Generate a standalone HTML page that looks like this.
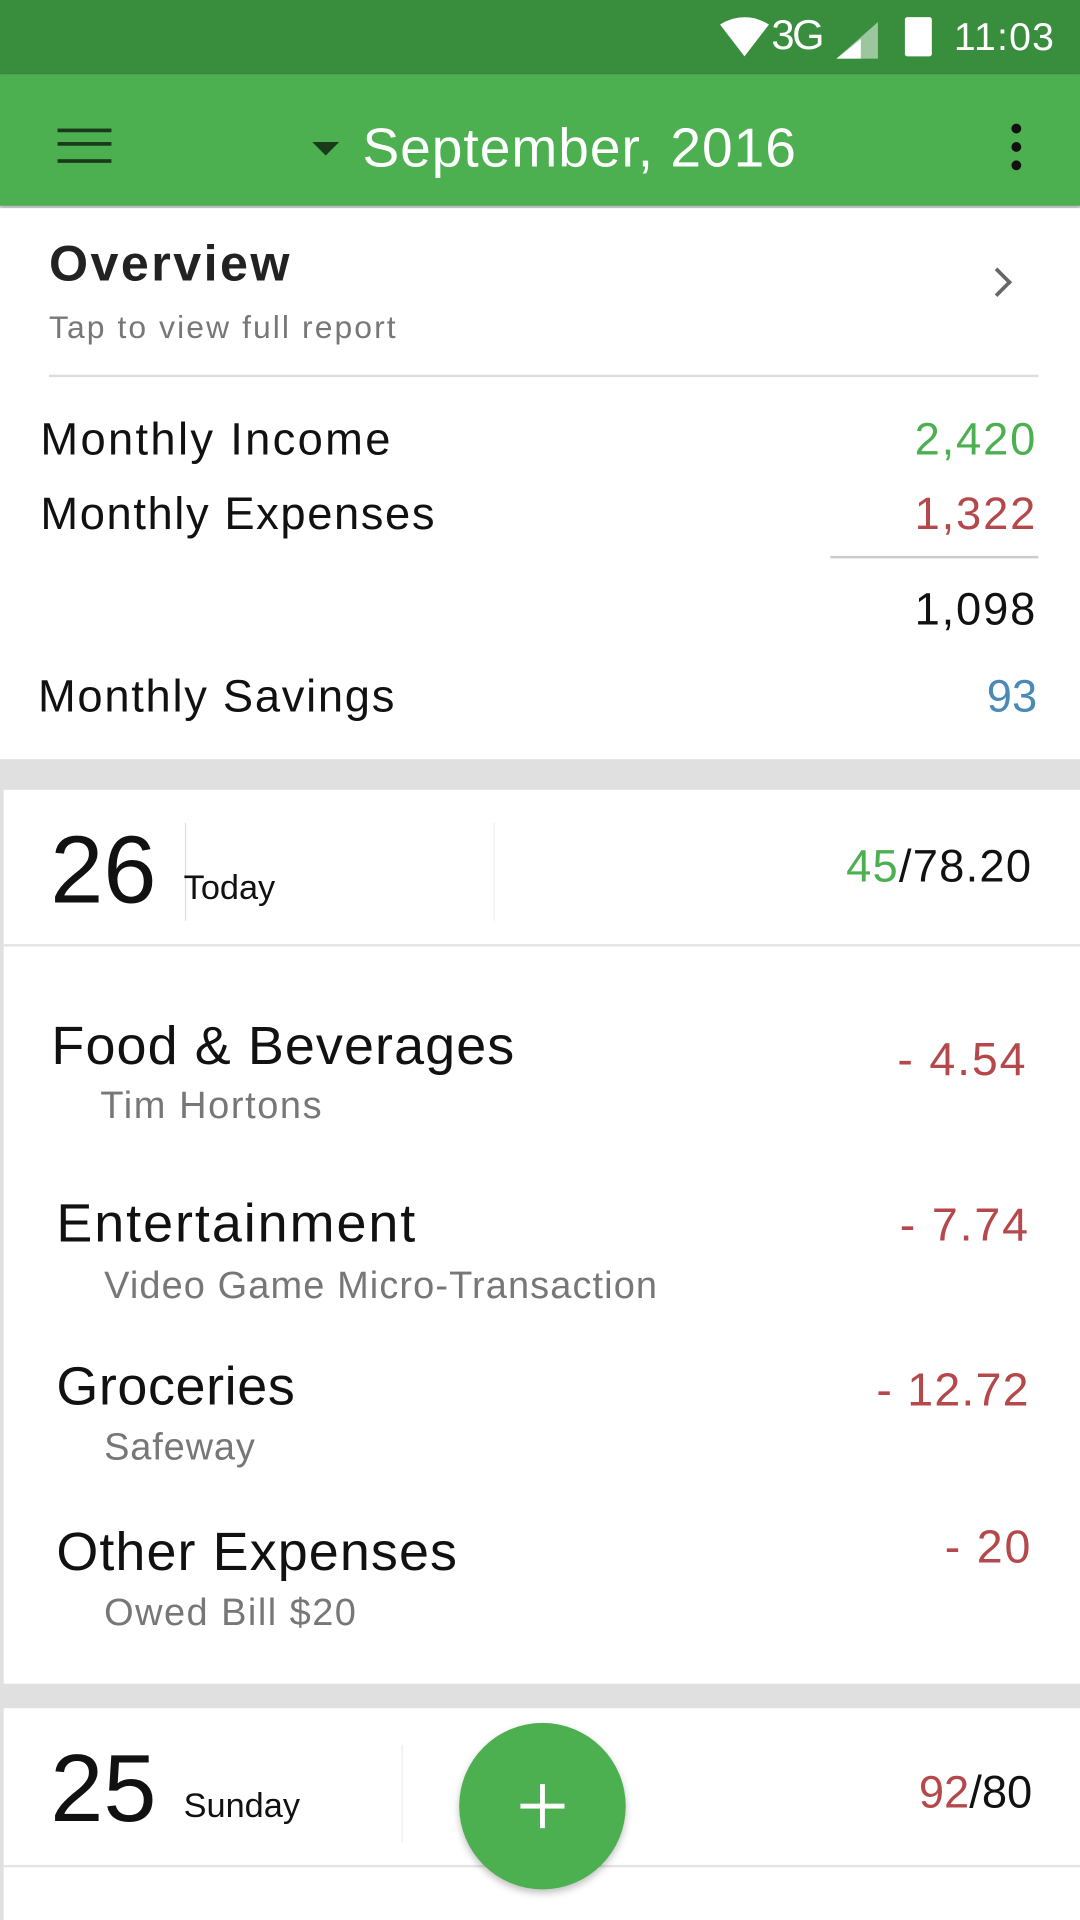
<!DOCTYPE html>
<html><head><meta charset="utf-8">
<style>
html,body{margin:0;padding:0;width:1080px;height:1920px;overflow:hidden;background:#e0e0e0;}
#wrap{position:absolute;left:0;top:0;width:882px;height:1568px;transform:scale(1.22449);transform-origin:0 0;font-family:"Liberation Sans","DejaVu Sans",sans-serif;background:#e0e0e0;}
.a{position:absolute;white-space:nowrap;}
.r{position:absolute;white-space:nowrap;text-align:right;}
.red{color:#b5484a}.green{color:#4caf50}
</style></head><body>
<div id="wrap">
  <div class="a" style="left:0;top:0;width:882px;height:61px;background:#388e3c;">
    <svg class="a" style="left:588px;top:14px" width="40" height="34"><path d="M0 6 Q20 -6 40 6 L20 32 Z" fill="#fff"/></svg>
    <div class="a" style="left:630px;top:10px;color:#fff;font-size:34px;letter-spacing:-2px;">3G</div>
    <svg class="a" style="left:683px;top:18px" width="34" height="30"><path d="M34 0 L34 30 L0 30 Z" fill="#fff" opacity="0.5"/><path d="M20 14 L20 30 L0 30 Z" fill="#fff"/></svg>
    <div class="a" style="left:739px;top:14px;width:22px;height:32px;background:#fff;border-radius:2px;"></div>
    <div class="a" style="left:779px;top:12px;color:#fff;font-size:32px;letter-spacing:1px;">11:03</div>
  </div>
  <div class="a" style="left:0;top:61px;width:882px;height:107px;background:#4caf50;box-shadow:0 2px 4px rgba(0,0,0,0.25);">
    <div class="a" style="left:47px;top:44px;width:44px;height:22px;border-top:3px solid #1b3a1c;border-bottom:3px solid #1b3a1c;"><div style="margin-top:8px;height:3px;background:#1b3a1c"></div></div>
    <div class="a" style="left:255px;top:55px;width:0;height:0;border-left:11px solid transparent;border-right:11px solid transparent;border-top:11px solid #1b3a1c;"></div>
    <div class="a" style="left:296px;top:34px;color:#fff;font-size:45px;letter-spacing:0.8px;">September, 2016</div>
    <div class="a" style="left:826px;top:40px;width:8px;">
      <div style="width:8px;height:8px;border-radius:4px;background:#111;margin-bottom:7px"></div>
      <div style="width:8px;height:8px;border-radius:4px;background:#111;margin-bottom:7px"></div>
      <div style="width:8px;height:8px;border-radius:4px;background:#111;"></div>
    </div>
  </div>
  <div class="a" style="left:0;top:170px;width:882px;height:450px;background:#fff;">
    <div class="a" style="left:40px;top:22px;font-size:41px;font-weight:bold;color:#222;letter-spacing:2px;">Overview</div>
    <div class="a" style="left:40px;top:82px;font-size:26px;color:#777;letter-spacing:1.7px;">Tap to view full report</div>
    <div class="a" style="left:806px;top:52px;width:14px;height:14px;border-right:3px solid #666;border-top:3px solid #666;transform:rotate(45deg);"></div>
    <div class="a" style="left:40px;top:136px;width:808px;height:2px;background:#ddd;"></div>
    <div class="a" style="left:33px;top:168px;font-size:37px;color:#111;letter-spacing:1.9px;">Monthly Income</div>
    <div class="r green" style="right:35px;top:168px;font-size:37px;letter-spacing:1.5px;">2,420</div>
    <div class="a" style="left:33px;top:229px;font-size:37px;color:#111;letter-spacing:1.3px;">Monthly Expenses</div>
    <div class="r red" style="right:35px;top:229px;font-size:37px;letter-spacing:1.5px;">1,322</div>
    <div class="a" style="left:678px;top:284px;width:170px;height:2px;background:#ccc;"></div>
    <div class="r" style="right:35px;top:307px;font-size:37px;color:#111;letter-spacing:1.5px;">1,098</div>
    <div class="a" style="left:31px;top:378px;font-size:37px;color:#111;letter-spacing:1.4px;">Monthly Savings</div>
    <div class="r" style="right:35px;top:378px;font-size:37px;color:#4a8ab5;">93</div>
  </div>
  <div class="a" style="left:3px;top:645px;width:879px;height:730px;background:#fff;">
    <div class="a" style="left:38px;top:20px;font-size:78px;color:#111;">26</div>
    <div class="a" style="left:148px;top:27px;width:1px;height:80px;background:#ddd;"></div>
    <div class="a" style="left:147px;top:64px;font-size:28px;color:#111;">Today</div>
    <div class="a" style="left:400px;top:27px;width:1px;height:80px;background:#eee;"></div>
    <div class="r" style="right:39px;top:42px;font-size:37px;color:#111;letter-spacing:1px;"><span class="green">45</span>/78.20</div>
    <div class="a" style="left:0;top:126px;width:879px;height:2px;background:#e4e4e4;"></div>
    <div class="a" style="left:39px;top:185px;font-size:44px;color:#111;letter-spacing:0.9px;">Food &amp; Beverages</div>
    <div class="a" style="left:79px;top:240px;font-size:31px;color:#777;letter-spacing:1.3px;">Tim Hortons</div>
    <div class="r red" style="right:43px;top:200px;font-size:38px;letter-spacing:1.5px;">- 4.54</div>
    <div class="a" style="left:43px;top:330px;font-size:44px;color:#111;letter-spacing:1.6px;">Entertainment</div>
    <div class="a" style="left:82px;top:387px;font-size:31px;color:#777;letter-spacing:0.9px;">Video Game Micro-Transaction</div>
    <div class="r red" style="right:41px;top:335px;font-size:38px;letter-spacing:1.5px;">- 7.74</div>
    <div class="a" style="left:43px;top:463px;font-size:44px;color:#111;letter-spacing:0.5px;">Groceries</div>
    <div class="a" style="left:82px;top:519px;font-size:31px;color:#777;letter-spacing:0.7px;">Safeway</div>
    <div class="r red" style="right:41px;top:470px;font-size:38px;letter-spacing:1px;">- 12.72</div>
    <div class="a" style="left:43px;top:598px;font-size:44px;color:#111;letter-spacing:0.9px;">Other Expenses</div>
    <div class="a" style="left:82px;top:654px;font-size:31px;color:#777;letter-spacing:1.2px;">Owed Bill $20</div>
    <div class="r red" style="right:39px;top:598px;font-size:38px;letter-spacing:1.5px;">- 20</div>
  </div>
  <div class="a" style="left:3px;top:1395px;width:879px;height:173px;background:#fff;">
    <div class="a" style="left:38px;top:20px;font-size:78px;color:#111;">25</div>
    <div class="a" style="left:325px;top:30px;width:1px;height:80px;background:#eee;"></div>
    <div class="a" style="left:147px;top:64px;font-size:28px;color:#111;">Sunday</div>
    <div class="r" style="right:39px;top:48px;font-size:37px;color:#111;"><span class="red">92</span>/80</div>
    <div class="a" style="left:0;top:128px;width:879px;height:2px;background:#e4e4e4;"></div>
  </div>
  <div class="a" style="left:375px;top:1407px;width:136px;height:136px;border-radius:68px;background:#4caf50;box-shadow:0 3px 6px rgba(0,0,0,0.25);">
    <div class="a" style="left:50px;top:66px;width:36px;height:4px;background:#fff;"></div>
    <div class="a" style="left:66px;top:50px;width:4px;height:36px;background:#fff;"></div>
  </div>
</div>
</body></html>
